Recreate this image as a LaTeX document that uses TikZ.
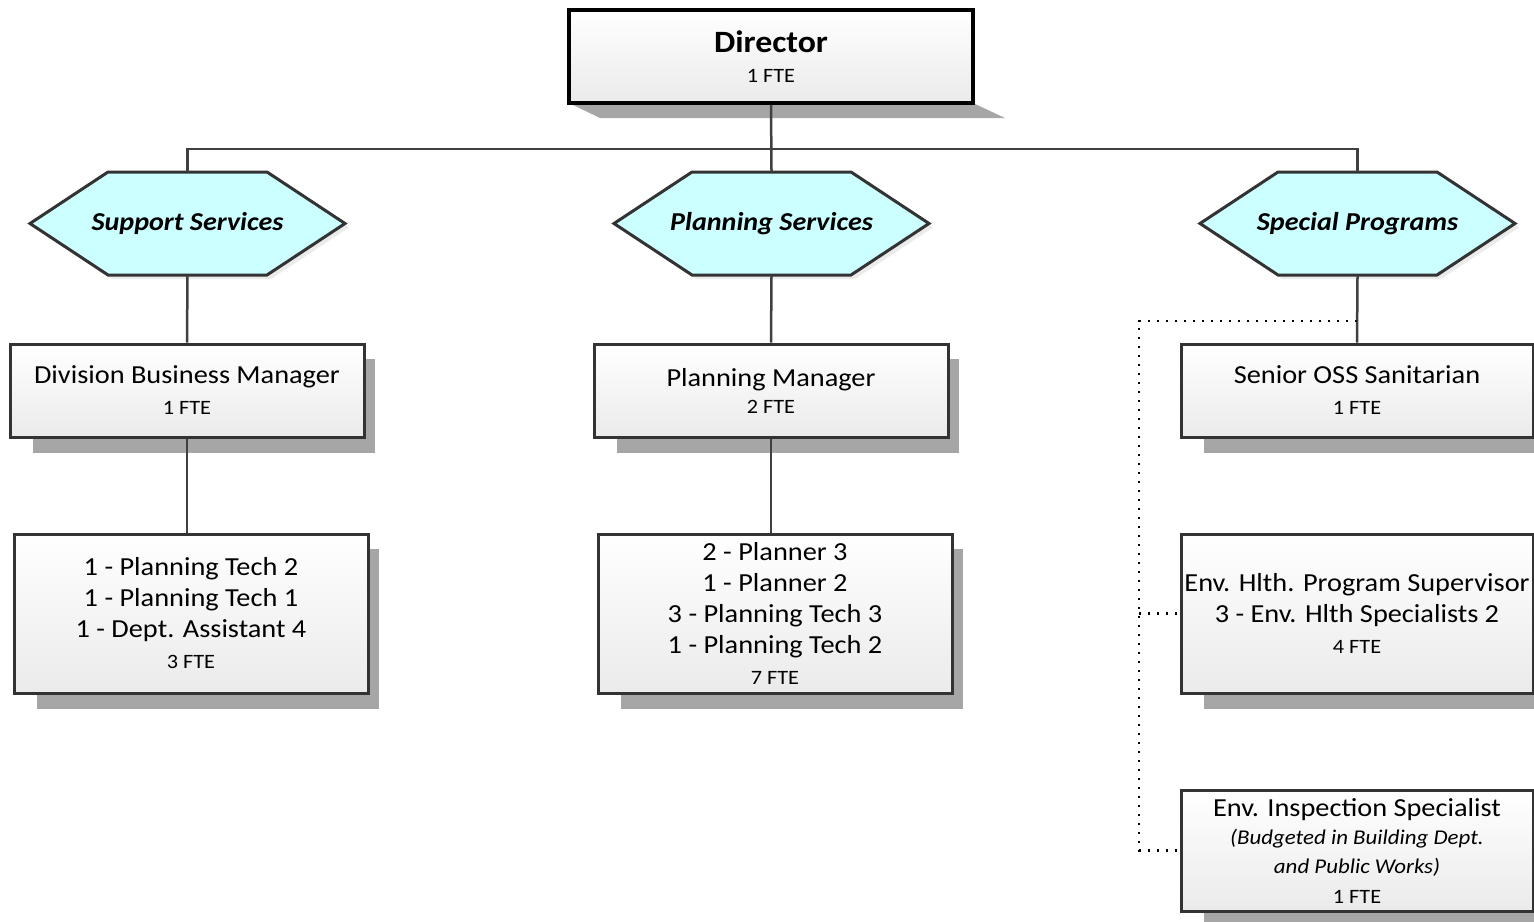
\documentclass[tikz,border=0pt]{standalone}
\usepackage{fontspec}
\setmainfont{Carlito}[FakeStretch=1.09]
\usetikzlibrary{calc}
\pgfdeclarelayer{bg}
\pgfsetlayers{bg,main}
\definecolor{hexfill}{RGB}{204,255,255}
\newcommand\mainfs{\fontsize{13}{15.5}\selectfont}
\newcommand\ftefs{\fontsize{10.2}{15.5}\selectfont}
\newcommand\fte[1]{{\ftefs #1}}
\newcommand\hexnode[4]{%
  \fill[hexshadow] (#2-153.5,#3+4) -- (#2-75.5,#3-47.5) -- (#2+83.5,#3-47.5) -- (#2+161.5,#3+4) -- (#2+83.5,#3+55.5) -- (#2-75.5,#3+55.5) -- cycle;
  \draw[hexline] (#2-157.5,#3) -- (#2-79.5,#3-51.5) -- (#2+79.5,#3-51.5) -- (#2+157.5,#3) -- (#2+79.5,#3+51.5) -- (#2-79.5,#3+51.5) -- cycle;
  \node[hextext] (#1) at (#2,#3) {#4};
}
\newcommand\boxshadow[1]{%
  \fill[shadowc] ($(#1.north west)+(24,16)$) rectangle ($(#1.south east)+(9,14)$);
}
\tikzset{
  shadowc/.style={fill=black!35},
  hexshadow/.style={fill=black!8},
  hexline/.style={draw=black!80, line width=1.5pt, fill=hexfill, line join=miter},
  hextext/.style={minimum width=157.5pt, minimum height=51.5pt, inner sep=0pt,
    font=\fontsize{12.9}{16}\selectfont\bfseries\itshape},
  box/.style={draw=black!80, line width=1.5pt, top color=white, bottom color=black!8,
    align=center, inner sep=0pt, font=\mainfs},
  dirbox/.style={box, draw=black, line width=1.8pt},
  conn/.style={draw=black!75, line width=1.25pt},
  dotconn/.style={draw=black, line width=1.1pt, dash pattern=on 1.1pt off 3.4pt},
}
\begin{document}
\begin{tikzpicture}[x=0.5pt,y=-0.5pt]
\useasboundingbox (0,0) rectangle (1534,921);
% Director
\fill[shadowc] (569,103) -- (600,118) -- (1005,118) -- (973,103) -- cycle;
\node[dirbox, minimum width=202pt, minimum height=46.5pt] (dir) at (771,56.5)
  {{\fontsize{15.5}{15.5}\selectfont\bfseries Director}\\[-0.5pt]\fte{1 FTE}};
% Hexagons
\hexnode{sup}{187.5}{223.5}{Support Services}
\hexnode{pls}{771.5}{223.5}{Planning Services}
\hexnode{spp}{1357.5}{223.5}{Special Programs}
% Level 2 boxes
\path (187,390.5) node[box, minimum width=177pt, minimum height=46.5pt] (dbm)
  {Division Business Manager\\\fte{1 FTE}};
\path (771,390.5) node[box, minimum width=177pt, minimum height=46.5pt] (pm)
  {Planning Manager\\[-2pt]\fte{2 FTE}};
\path (1357,390.5) node[box, minimum width=176pt, minimum height=46.5pt] (sos)
  {Senior OSS Sanitarian\\\fte{1 FTE}};
% Level 3 boxes
\path (191,613.5) node[box, minimum width=177pt, minimum height=79.5pt] (sl3)
  {1 - Planning Tech 2\\1 - Planning Tech 1\\1 - Dept. Assistant 4\\\fte{3 FTE}};
\path (775,613.5) node[box, minimum width=177pt, minimum height=79.5pt] (pl3)
  {2 - Planner 3\\1 - Planner 2\\3 - Planning Tech 3\\1 - Planning Tech 2\\\fte{7 FTE}};
\path (1357,613.5) node[box, minimum width=176pt, minimum height=79.5pt] (ehs)
  {Env. Hlth. Program Supervisor\\3 - Env. Hlth Specialists 2\\\fte{4 FTE}};
\path (1357,850.5) node[box, minimum width=176pt, minimum height=60.5pt] (eis)
  {Env. Inspection Specialist\\[-1.5pt]{\fontsize{10.5}{15.5}\selectfont\itshape (Budgeted in Building Dept.}\\[-1pt]{\fontsize{10.5}{15.5}\selectfont\itshape and Public Works)}\\[-0.5pt]\fte{1 FTE}};
\begin{pgfonlayer}{bg}
  \boxshadow{dbm}\boxshadow{pm}\boxshadow{sos}
  \boxshadow{sl3}\boxshadow{pl3}\boxshadow{ehs}\boxshadow{eis}
\end{pgfonlayer}
% Connectors
\coordinate (bus) at (771,149);
\draw[conn] (dir.south) -- (pls.north);
\draw[conn] (sup.north) |- (bus) -| (spp.north);
\draw[conn] (sup.south) -- (dbm.north);
\draw[conn] (pls.south) -- (pm.north);
\draw[conn] (spp.south) -- (sos.north);
\draw[conn] (dbm.south) -- (dbm.south |- sl3.north);
\draw[conn] (pm.south) -- (pm.south |- pl3.north);
\coordinate (dots) at (1357,321);
\coordinate (dotx) at (1139,321);
\draw[dotconn] (dots) -- (dotx) |- (eis.west);
\draw[dotconn] (dotx |- ehs.west) -- (ehs.west);
\end{tikzpicture}
\end{document}
